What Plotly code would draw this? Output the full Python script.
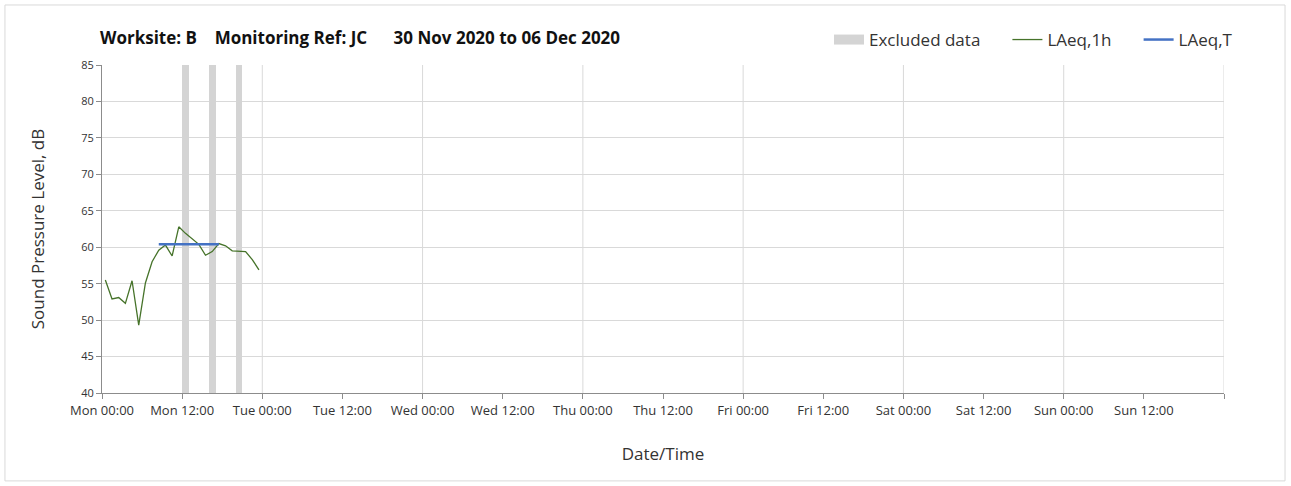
import plotly.graph_objects as go

# hourly LAeq values, Mon 30 Nov 2020 (plotted at mid-hour)
hours = ["00:30", "01:30", "02:30", "03:30", "04:30", "05:30", "06:30", "07:30",
         "08:30", "09:30", "10:30", "11:30", "12:30", "13:30", "14:30", "15:30",
         "16:30", "17:30", "18:30", "19:30", "20:30", "21:30", "22:30", "23:30"]
laeq_1h = [55.5, 52.9, 53.1, 52.3, 55.4, 49.3, 55.1, 58.0, 59.6, 60.3, 58.8, 62.8,
           61.9, 61.2, 60.4, 58.9, 59.4, 60.5, 60.2, 59.5, 59.4, 59.4, 58.3, 56.9]

# daytime period average
laeq_t_times = ["08:30", "17:30"]
laeq_t = 60.4

# excluded hours (bar centres)
excluded = ["12:30", "16:30", "20:30"]

day = "2020-11-30 "
tick_dates = ["2020-11-30 00:00", "2020-11-30 12:00", "2020-12-01 00:00", "2020-12-01 12:00",
              "2020-12-02 00:00", "2020-12-02 12:00", "2020-12-03 00:00", "2020-12-03 12:00",
              "2020-12-04 00:00", "2020-12-04 12:00", "2020-12-05 00:00", "2020-12-05 12:00",
              "2020-12-06 00:00", "2020-12-06 12:00", "2020-12-07 00:00"]
tick_labels = ["Mon 00:00", "Mon 12:00", "Tue 00:00", "Tue 12:00", "Wed 00:00", "Wed 12:00",
               "Thu 00:00", "Thu 12:00", "Fri 00:00", "Fri 12:00", "Sat 00:00", "Sat 12:00",
               "Sun 00:00", "Sun 12:00", ""]
day_lines = ["2020-12-01", "2020-12-02", "2020-12-03", "2020-12-04",
             "2020-12-05", "2020-12-06", "2020-12-07"]

FONT = "Open Sans"
GRID = "#d9d9d9"
AXIS = "#8c8c8c"
SP = "&nbsp;"

fig = go.Figure()

# excluded data bars, full height
fig.add_trace(go.Bar(x=[day + h for h in excluded], y=[45] * len(excluded), base=40,
                     width=3600000, marker_color="#d4d4d4", marker_line_width=0,
                     showlegend=False, hoverinfo="skip"))
# legend proxy for excluded data
fig.add_trace(go.Scatter(x=[None], y=[None], mode="lines", name="Excluded data" + SP * 5,
                         line=dict(color="#d4d4d4", width=12)))

fig.add_trace(go.Scatter(x=[day + h for h in hours], y=laeq_1h, mode="lines", name="LAeq,1h" + SP * 5,
                         line=dict(color="#46732a", width=1.3)))
fig.add_trace(go.Scatter(x=[day + h for h in laeq_t_times], y=[laeq_t] * len(laeq_t_times),
                         mode="lines", name="LAeq,T", line=dict(color="#4472c4", width=2.5)))

# vertical gridlines at midnight only
for d in day_lines:
    fig.add_shape(type="line", x0=d, x1=d, y0=0, y1=1, xref="x", yref="paper",
                  line=dict(color=GRID, width=1), layer="below")

# outer frame
fig.add_shape(type="rect", xref="paper", yref="paper", x0=-0.0865, x1=1.0544, y0=-0.268, y1=1.183,
              line=dict(color="#d9d9d9", width=1))

fig.update_xaxes(range=["2020-11-30 00:00", "2020-12-07 00:00"], tickvals=tick_dates, ticktext=tick_labels,
                 showgrid=False, showline=True, linecolor=AXIS, linewidth=1, automargin=False,
                 ticks="outside", ticklen=5, tickcolor=AXIS,
                 tickfont=dict(family=FONT, size=13, color="#333"),
                 title=dict(text="Date/Time", font=dict(family=FONT, size=17, color="#333"), standoff=30))
fig.update_yaxes(range=[40, 85], dtick=5, showgrid=True, gridcolor=GRID, zeroline=False,
                 showline=True, linecolor=AXIS, linewidth=1, automargin=False,
                 ticks="outside", ticklen=5, tickcolor=AXIS,
                 tickfont=dict(family=FONT, size=11, color="#333"),
                 title=dict(text="Sound Pressure Level, dB", font=dict(family=FONT, size=17, color="#333"),
                            standoff=32))

fig.update_layout(
    width=1291, height=486,
    margin=dict(l=102, r=67, t=65, b=93, autoexpand=False),
    paper_bgcolor="white", plot_bgcolor="white",
    bargap=0,
    title=dict(text="<b>Worksite: B" + SP * 4 + "Monitoring Ref: JC" + SP * 6 + "30 Nov 2020 to 06 Dec 2020</b>",
               x=100 / 1291, xanchor="left", y=1 - 38 / 486, yanchor="middle",
               font=dict(family=FONT, size=17, color="#111")),
    legend=dict(orientation="h", xref="container", yref="container", x=1238 / 1291, xanchor="right",
                y=1 - 40 / 486, yanchor="middle", font=dict(family=FONT, size=17, color="#333"),
                bgcolor="rgba(0,0,0,0)"),
)

fig.write_html("out.html", config={"displayModeBar": False},
               post_script="document.body.style.margin='0';")
